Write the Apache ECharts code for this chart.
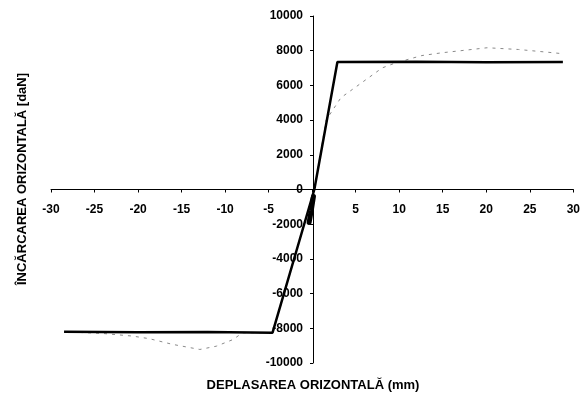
<!DOCTYPE html>
<html>
<head>
<meta charset="utf-8">
<script src="https://cdn.jsdelivr.net/npm/echarts@6/dist/echarts.min.js"></script>
<style>
  html, body { margin: 0; padding: 0; background: #fff; }
  #chart { width: 583px; height: 399px; }
</style>
</head>
<body>
<div id="chart"></div>
<script>
// Bilinear model of the horizontal load–displacement response
const modelDisp = [-28.5, -20, -12, -4.55, 0.25, 2.9, 12, 20, 28.8];
const modelLoad = [-8200, -8230, -8220, -8250, 0, 7350, 7360, 7340, 7350];

// Dense small-amplitude cycles near the origin
const coreDisp = [-0.35, -0.1, 0.15];
const coreLoad = [-1900, -1200, -400];

// Measured test envelope
const testDisp = [-28.5, -24, -20.6, -18.7, -16, -12.9, -11, -9.1, -8, -4.5, 0.25, 1.6, 3.3, 4.6, 8.05, 9.6, 12.6, 14.9, 17.6, 20.1, 23.7, 27.1, 28.5];
const testLoad = [-8200, -8300, -8450, -8600, -8930, -9220, -9030, -8650, -8260, -8250, 0, 4000, 5290, 5760, 7010, 7300, 7720, 7880, 8030, 8170, 8070, 7910, 7840];

const xLabel = 'DEPLASAREA ORIZONTALĂ (mm)';
const yLabel = 'ÎNCĂRCAREA ORIZONTALĂ [daN]';

const pairs = (xs, ys) => xs.map((x, i) => [x, ys[i]]);
const font = 'Liberation Sans, Arial, sans-serif';

// Plot area in pixels; the axes cross in the middle of it (at 0, 0)
const gridLeft = 51, gridRight = 8, gridTop = 16, gridBottom = 36;
const W = 583, H = 399;
const plotW = W - gridLeft - gridRight;
const plotH = H - gridTop - gridBottom;

const chart = echarts.init(document.getElementById('chart'), null, { renderer: 'canvas' });
chart.setOption({
  animation: false,
  backgroundColor: '#fff',
  grid: { left: gridLeft, right: gridRight, top: gridTop, bottom: gridBottom, containLabel: false },
  xAxis: {
    type: 'value', min: -30, max: 30, interval: 5,
    position: 'bottom', offset: -plotH / 2,
    axisLine: { onZero: false, lineStyle: { color: '#000', width: 1 } },
    axisTick: { length: 3, lineStyle: { color: '#000' } },
    splitLine: { show: false },
    axisLabel: {
      color: '#000', fontFamily: font, fontSize: 12, fontWeight: 'bold', margin: 14,
      formatter: v => (v === 0 ? '' : String(v))
    }
  },
  yAxis: {
    type: 'value', min: -10000, max: 10000, interval: 2000,
    position: 'left', offset: -plotW / 2,
    axisLine: { onZero: false, lineStyle: { color: '#000', width: 1 } },
    axisTick: { length: 3, lineStyle: { color: '#000' } },
    splitLine: { show: false },
    axisLabel: {
      color: '#000', fontFamily: font, fontSize: 12, fontWeight: 'bold', margin: 10,
      formatter: v => String(v)
    }
  },
  series: [
    {
      type: 'line', data: pairs(testDisp, testLoad), showSymbol: false, z: 2,
      lineStyle: { color: '#8a8a8a', width: 1, type: [3, 5] }
    },
    {
      type: 'line', data: pairs(modelDisp, modelLoad), showSymbol: false, z: 3,
      lineStyle: { color: '#000', width: 2.5 }
    },
    {
      type: 'line', data: pairs(coreDisp, coreLoad), showSymbol: false, z: 4,
      lineStyle: { color: '#000', width: 5, cap: 'round' }
    }
  ],
  graphic: [
    {
      type: 'text', x: 313, y: 385,
      style: { text: xLabel, font: 'bold 13px ' + font, fill: '#000', align: 'center', verticalAlign: 'middle' }
    },
    {
      type: 'text', x: 22, y: 179, rotation: Math.PI / 2,
      style: { text: yLabel, font: 'bold 13px ' + font, fill: '#000', align: 'center', verticalAlign: 'middle' }
    }
  ]
});
</script>
</body>
</html>
